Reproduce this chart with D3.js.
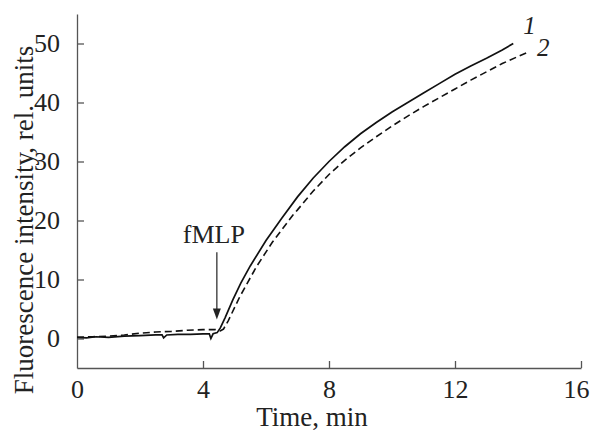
<!DOCTYPE html>
<html>
<head>
<meta charset="utf-8">
<script src="https://cdn.jsdelivr.net/npm/d3@7"></script>
<style>
	body { margin: 0; background: #fff; }
	svg text { font-family: "Liberation Serif", "Times New Roman", serif; fill: #222; }
</style>
</head>
<body>
<div id="chart"></div>
<script>
// curve 1 (solid) - time in min, intensity
var time1 = [0, 0.3, 0.6, 1.0, 1.5, 2.0, 2.5, 2.7, 2.75, 2.85, 3.2, 3.6, 4.0, 4.2, 4.25, 4.32, 4.45, 4.55, 4.7, 4.95, 5.2, 5.5, 6.0, 6.5, 7.0, 7.5, 8.0, 8.5, 9.0, 9.5, 10.0, 10.5, 11.0, 11.5, 12.0, 12.5, 13.0, 13.5, 13.85];
var value1 = [0.2, 0.1, 0.3, 0.2, 0.4, 0.5, 0.6, 0.6, 0.1, 0.6, 0.7, 0.7, 0.8, 0.8, 0.0, 0.8, 1.0, 1.8, 3.5, 6.6, 9.4, 12.3, 16.6, 20.4, 24.0, 27.2, 30.0, 32.5, 34.7, 36.6, 38.4, 40.0, 41.6, 43.2, 44.8, 46.2, 47.5, 48.9, 50.0];
// curve 2 (dashed)
var time2 = [0, 0.5, 1.0, 1.5, 2.0, 2.5, 3.0, 3.5, 4.0, 4.4, 4.55, 4.65, 4.8, 5.17, 5.7, 6.2, 6.85, 7.0, 7.5, 8.0, 8.5, 9.0, 9.5, 10.0, 10.5, 11.0, 11.5, 12.0, 12.5, 13.0, 13.5, 14.0, 14.35];
var value2 = [0.2, 0.3, 0.4, 0.6, 0.9, 1.1, 1.2, 1.4, 1.5, 1.5, 1.3, 1.6, 3.0, 7.1, 12.2, 16.3, 20.9, 21.8, 25.0, 27.8, 30.2, 32.3, 34.2, 36.0, 37.7, 39.3, 40.8, 42.3, 43.8, 45.2, 46.6, 47.8, 48.6];

var xTicks = [0, 4, 8, 12, 16];
var yTicks = [0, 10, 20, 30, 40, 50];
var xDomain = [0, 16];
var yDomain = [-5, 55];

// fMLP addition point
var fmlpTime = 4.44;
var fmlpTop = 14.6;
var fmlpTip = 3.2;

function Chart(){
	var width = 592, height = 433;
	var margin = {left: 77, right: 11, top: 14, bottom: 65};

	this.init = function(){
		var svg = d3.select("#chart").append("svg")
		.attr("width", width)
		.attr("height", height);

		var x = d3.scaleLinear().domain(xDomain).range([margin.left, width - margin.right]);
		var y = d3.scaleLinear().domain(yDomain).range([height - margin.bottom, margin.top]);

		// axes
		var xAxis = svg.append("g")
		.attr("transform", "translate(0," + (height - margin.bottom) + ")")
		.call(d3.axisBottom(x).tickValues(xTicks).tickSizeInner(-7).tickSizeOuter(0).tickPadding(16));
		var yAxis = svg.append("g")
		.attr("transform", "translate(" + margin.left + ",0)")
		.call(d3.axisLeft(y).tickValues(yTicks).tickSizeInner(-7).tickSizeOuter(0).tickPadding(17));

		[xAxis, yAxis].forEach(function(a){
			a.select(".domain").attr("stroke", "#555").attr("stroke-width", 1.3);
			a.selectAll(".tick line").attr("stroke", "#555").attr("stroke-width", 1.3);
			a.selectAll(".tick text").attr("font-size", 26).attr("fill", "#222");
		});
		xAxis.selectAll(".tick").filter(function(d){ return d === 0; }).select("line").remove();
		xAxis.selectAll(".tick text").attr("dy", "0.71em").attr("y", 12);
		// last label sits against the right edge
		xAxis.selectAll(".tick").filter(function(d){ return d === 16; }).select("text").attr("x", -5);

		// axis titles
		svg.append("text")
		.attr("x", 312).attr("y", 426)
		.attr("text-anchor", "middle")
		.attr("font-size", 27)
		.text("Time, min");

		svg.append("text")
		.attr("transform", "translate(33,220) rotate(-90)")
		.attr("text-anchor", "middle")
		.attr("font-size", 27)
		.text("Fluorescence intensity, rel. units");

		// curves
		var line = d3.line()
		.x(function(d){ return x(d[0]); })
		.y(function(d){ return y(d[1]); });

		var data1 = time1.map(function(t, i){ return [t, value1[i]]; });
		var data2 = time2.map(function(t, i){ return [t, value2[i]]; });

		svg.append("path")
		.datum(data2)
		.attr("d", line)
		.attr("fill", "none")
		.attr("stroke", "#111")
		.attr("stroke-width", 1.6)
		.attr("stroke-dasharray", "7,4");

		svg.append("path")
		.datum(data1)
		.attr("d", line)
		.attr("fill", "none")
		.attr("stroke", "#111")
		.attr("stroke-width", 1.7);

		// curve numbers
		svg.append("text")
		.attr("x", x(time1[time1.length - 1]) + 10).attr("y", y(value1[value1.length - 1]) - 10)
		.attr("font-size", 25).attr("font-style", "italic")
		.text("1");
		svg.append("text")
		.attr("x", x(time2[time2.length - 1]) + 8).attr("y", y(value2[value2.length - 1]) + 4)
		.attr("font-size", 25).attr("font-style", "italic")
		.text("2");

		// fMLP arrow
		var ax = x(fmlpTime);
		svg.append("line")
		.attr("x1", ax).attr("x2", ax)
		.attr("y1", y(fmlpTop)).attr("y2", y(fmlpTip) - 9)
		.attr("stroke", "#222").attr("stroke-width", 1.2);
		svg.append("path")
		.attr("d", "M" + (ax - 4) + "," + (y(fmlpTip) - 11) + "L" + (ax + 4) + "," + (y(fmlpTip) - 11) + "L" + ax + "," + y(fmlpTip) + "Z")
		.attr("fill", "#222");
		svg.append("text")
		.attr("x", ax - 3).attr("y", y(fmlpTop) - 9)
		.attr("text-anchor", "middle")
		.attr("font-size", 26)
		.text("fMLP");

		return this;
	};
}

new Chart().init();
</script>
</body>
</html>
